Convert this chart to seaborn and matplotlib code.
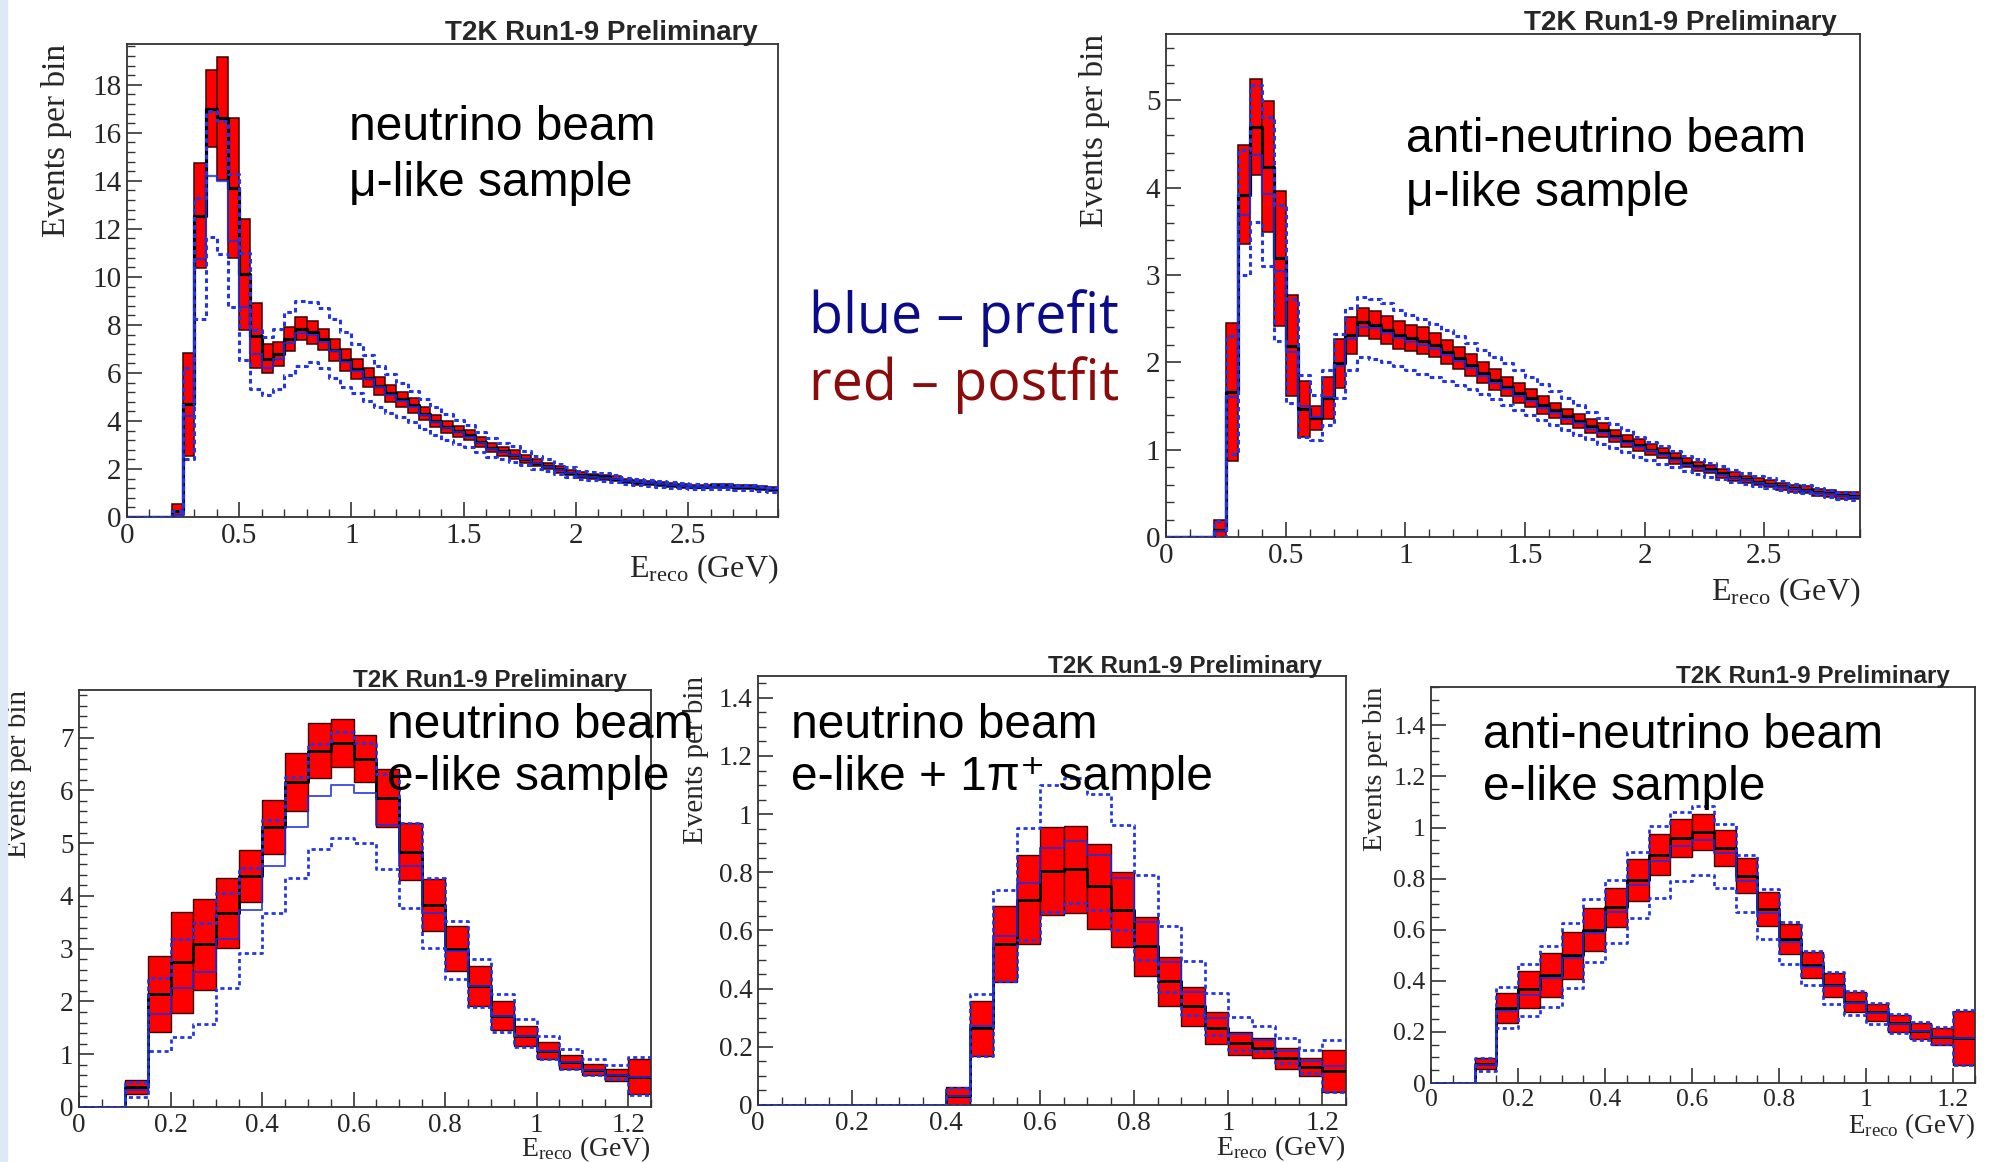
import numpy as np
import pandas as pd
import matplotlib
matplotlib.use("Agg")
import matplotlib.pyplot as plt
import seaborn as sns
from matplotlib.ticker import MultipleLocator, FuncFormatter
from matplotlib.patches import Rectangle

W, H = 1991, 1162

# bin edges in GeV (0.05 GeV bins)
mu_edges = np.round(np.arange(0, 2.9001, 0.05), 2)
e_edges = np.round(np.arange(0, 1.2501, 0.05), 2)

# ---- neutrino beam, mu-like ----
numu_post = [0, 0, 0, 0, 0.25, 4.7, 12.55, 17.0, 16.6, 13.7, 10.1, 7.55, 6.6, 6.8, 7.4, 7.85,
             7.7, 7.4, 6.95, 6.55, 6.15, 5.8, 5.45, 5.15, 4.9, 4.65, 4.3, 4.0, 3.75, 3.57,
             3.4, 3.12, 2.88, 2.74, 2.6, 2.42, 2.26, 2.12, 1.98, 1.85, 1.74, 1.7, 1.66, 1.59,
             1.5, 1.45, 1.41, 1.37, 1.34, 1.3, 1.27, 1.27, 1.28, 1.28, 1.26, 1.24, 1.2, 1.16]
numu_err = [0, 0, 0, 0, 0.3, 2.15, 2.2, 1.6, 2.55, 2.9, 2.3, 1.35, 0.6, 0.5, 0.5, 0.48,
            0.48, 0.45, 0.45, 0.45, 0.42, 0.4, 0.38, 0.35, 0.32, 0.3, 0.28, 0.26, 0.24, 0.22,
            0.21, 0.2, 0.19, 0.18, 0.17, 0.16, 0.15, 0.14, 0.13, 0.12, 0.12, 0.11, 0.11, 0.1,
            0.1, 0.1, 0.09, 0.09, 0.09, 0.09, 0.08, 0.08, 0.08, 0.08, 0.08, 0.08, 0.08, 0.08]
numu_pre = [0, 0, 0, 0, 0.1, 4.2, 10.75, 14.2, 14.0, 11.5, 8.75, 6.8, 6.2, 6.6, 7.25, 7.65,
            7.6, 7.3, 6.9, 6.45, 6.1, 5.75, 5.4, 5.1, 4.85, 4.6, 4.25, 3.95, 3.7, 3.52,
            3.35, 3.08, 2.85, 2.71, 2.57, 2.4, 2.24, 2.1, 1.96, 1.83, 1.72, 1.68, 1.64, 1.57,
            1.49, 1.44, 1.4, 1.36, 1.33, 1.29, 1.26, 1.26, 1.27, 1.27, 1.25, 1.23, 1.19, 1.15]
numu_lo = [0, 0, 0, 0, 0.0, 2.4, 8.25, 11.65, 10.95, 8.75, 6.55, 5.35, 5.1, 5.35, 5.9, 6.3,
           6.45, 6.2, 5.8, 5.4, 5.15, 4.85, 4.6, 4.35, 4.15, 3.95, 3.65, 3.4, 3.2, 3.05,
           2.9, 2.7, 2.5, 2.4, 2.3, 2.15, 2.0, 1.9, 1.78, 1.67, 1.57, 1.53, 1.5, 1.44,
           1.36, 1.32, 1.29, 1.25, 1.22, 1.19, 1.16, 1.16, 1.16, 1.16, 1.14, 1.12, 1.08, 1.04]
numu_hi = [0, 0, 0, 0, 0.25, 6.2, 13.3, 16.9, 16.5, 14.3, 11.0, 7.8, 7.5, 7.85, 8.55, 9.0,
           8.95, 8.7, 8.25, 7.7, 7.2, 6.75, 6.3, 5.95, 5.6, 5.25, 4.9, 4.6, 4.3, 4.05,
           3.85, 3.55, 3.3, 3.1, 2.95, 2.75, 2.55, 2.4, 2.22, 2.07, 1.93, 1.87, 1.82, 1.74,
           1.64, 1.58, 1.53, 1.49, 1.45, 1.41, 1.38, 1.37, 1.38, 1.37, 1.35, 1.33, 1.29, 1.25]

# ---- anti-neutrino beam, mu-like ----
numubar_post = [0, 0, 0, 0, 0.08, 1.66, 3.92, 4.7, 4.24, 3.19, 2.19, 1.47, 1.36, 1.59, 1.99, 2.31,
                2.46, 2.43, 2.37, 2.31, 2.28, 2.25, 2.2, 2.12, 2.05, 1.97, 1.88, 1.8, 1.72, 1.65,
                1.59, 1.51, 1.45, 1.38, 1.33, 1.27, 1.22, 1.16, 1.1, 1.05, 1.0, 0.96, 0.9, 0.85,
                0.81, 0.78, 0.73, 0.69, 0.66, 0.63, 0.61, 0.58, 0.56, 0.54, 0.51, 0.5, 0.48, 0.47]
numubar_err = [0, 0, 0, 0, 0.12, 0.79, 0.57, 0.55, 0.75, 0.77, 0.58, 0.32, 0.14, 0.24, 0.28, 0.21,
               0.16, 0.16, 0.16, 0.16, 0.15, 0.15, 0.14, 0.14, 0.13, 0.13, 0.12, 0.12, 0.11, 0.11,
               0.1, 0.1, 0.09, 0.09, 0.08, 0.08, 0.08, 0.07, 0.07, 0.07, 0.06, 0.06, 0.06, 0.05,
               0.05, 0.05, 0.05, 0.05, 0.04, 0.04, 0.04, 0.04, 0.04, 0.04, 0.04, 0.04, 0.04, 0.04]
numubar_pre = [0, 0, 0, 0, 0.07, 1.6, 3.69, 4.37, 3.93, 3.05, 2.12, 1.5, 1.37, 1.6, 1.96, 2.27,
               2.4, 2.39, 2.34, 2.28, 2.23, 2.2, 2.15, 2.08, 2.01, 1.93, 1.84, 1.76, 1.69, 1.62,
               1.56, 1.48, 1.42, 1.35, 1.3, 1.24, 1.19, 1.13, 1.08, 1.03, 0.98, 0.94, 0.88, 0.83,
               0.79, 0.76, 0.71, 0.68, 0.65, 0.62, 0.6, 0.57, 0.55, 0.53, 0.5, 0.49, 0.47, 0.46]
numubar_lo = [0, 0, 0, 0, 0.0, 0.95, 3.0, 3.61, 3.1, 2.24, 1.53, 1.15, 1.11, 1.28, 1.59, 1.91,
              2.06, 2.04, 2.0, 1.96, 1.91, 1.87, 1.83, 1.79, 1.74, 1.69, 1.64, 1.58, 1.51, 1.46,
              1.4, 1.34, 1.28, 1.22, 1.17, 1.12, 1.07, 1.02, 0.97, 0.92, 0.88, 0.84, 0.8, 0.76,
              0.72, 0.69, 0.66, 0.63, 0.61, 0.58, 0.56, 0.54, 0.52, 0.5, 0.48, 0.46, 0.44, 0.42]
numubar_hi = [0, 0, 0, 0, 0.18, 2.3, 4.43, 5.18, 4.81, 3.8, 2.73, 1.85, 1.63, 1.91, 2.33, 2.62,
              2.75, 2.73, 2.68, 2.6, 2.54, 2.5, 2.44, 2.37, 2.3, 2.22, 2.14, 2.06, 1.99, 1.91,
              1.83, 1.75, 1.67, 1.59, 1.51, 1.43, 1.36, 1.29, 1.22, 1.15, 1.09, 1.04, 0.98, 0.93,
              0.89, 0.85, 0.81, 0.77, 0.73, 0.7, 0.67, 0.64, 0.61, 0.59, 0.56, 0.54, 0.52, 0.5]

# ---- neutrino beam, e-like ----
nue_post = [0, 0, 0.38, 2.14, 2.74, 3.08, 3.68, 4.38, 5.31, 6.16, 6.75, 6.9, 6.6,
            5.85, 4.84, 3.82, 3.0, 2.3, 1.73, 1.35, 1.07, 0.85, 0.71, 0.61, 0.57]
nue_err = [0, 0, 0.13, 0.72, 0.95, 0.87, 0.66, 0.49, 0.51, 0.55, 0.52, 0.45, 0.45,
           0.55, 0.54, 0.49, 0.43, 0.38, 0.28, 0.19, 0.16, 0.13, 0.11, 0.11, 0.33]
nue_pre = [0, 0, 0.33, 1.76, 2.26, 2.55, 3.18, 3.74, 4.56, 5.31, 5.9, 6.1, 5.95,
           5.35, 4.56, 3.68, 2.96, 2.3, 1.73, 1.35, 1.07, 0.85, 0.71, 0.61, 0.57]
nue_lo = [0, 0, 0.19, 1.07, 1.32, 1.57, 2.26, 2.92, 3.68, 4.34, 4.88, 5.1, 5.0,
          4.5, 3.77, 3.02, 2.42, 1.89, 1.42, 1.13, 0.91, 0.72, 0.6, 0.53, 0.22]
nue_hi = [0, 0, 0.47, 2.45, 3.18, 3.49, 4.06, 4.53, 5.44, 6.26, 6.88, 7.1, 6.9,
          6.3, 5.38, 4.34, 3.52, 2.8, 2.14, 1.67, 1.35, 1.1, 0.91, 0.79, 0.94]

# ---- neutrino beam, e-like + 1pi+ ----
nue1pi_post = [0, 0, 0, 0, 0, 0, 0, 0, 0.03, 0.264, 0.553, 0.706, 0.804,
               0.81, 0.752, 0.672, 0.545, 0.425, 0.339, 0.264, 0.212, 0.195, 0.16, 0.132, 0.117]
nue1pi_err = [0, 0, 0, 0, 0, 0, 0, 0, 0.032, 0.095, 0.13, 0.152, 0.152,
              0.15, 0.146, 0.13, 0.103, 0.083, 0.066, 0.055, 0.04, 0.035, 0.035, 0.031, 0.072]
nue1pi_pre = [0, 0, 0, 0, 0, 0, 0, 0, 0.03, 0.27, 0.58, 0.763, 0.882,
              0.907, 0.861, 0.78, 0.63, 0.49, 0.39, 0.3, 0.245, 0.225, 0.185, 0.15, 0.135]
nue1pi_lo = [0, 0, 0, 0, 0, 0, 0, 0, 0.0, 0.17, 0.425, 0.568, 0.665,
             0.695, 0.67, 0.6, 0.5, 0.39, 0.31, 0.241, 0.189, 0.184, 0.143, 0.109, 0.046]
nue1pi_hi = [0, 0, 0, 0, 0, 0, 0, 0, 0.06, 0.38, 0.74, 0.953, 1.1,
             1.125, 1.068, 0.964, 0.79, 0.614, 0.494, 0.385, 0.304, 0.27, 0.23, 0.19, 0.224]

# ---- anti-neutrino beam, e-like ----
nuebar_post = [0, 0, 0.076, 0.294, 0.366, 0.423, 0.5, 0.6, 0.688, 0.795, 0.894, 0.959, 0.983,
               0.92, 0.811, 0.68, 0.563, 0.462, 0.383, 0.318, 0.276, 0.233, 0.204, 0.181, 0.177]
nuebar_err = [0, 0, 0.022, 0.059, 0.073, 0.085, 0.092, 0.085, 0.076, 0.082, 0.079, 0.075, 0.071,
              0.069, 0.069, 0.066, 0.059, 0.05, 0.047, 0.039, 0.033, 0.033, 0.03, 0.033, 0.105]
nuebar_pre = [0, 0, 0.07, 0.28, 0.344, 0.41, 0.488, 0.589, 0.671, 0.776, 0.867, 0.926, 0.95,
              0.9, 0.789, 0.665, 0.55, 0.455, 0.378, 0.315, 0.274, 0.231, 0.202, 0.18, 0.176]
nuebar_lo = [0, 0, 0.047, 0.216, 0.262, 0.298, 0.373, 0.475, 0.547, 0.645, 0.724, 0.789, 0.815,
             0.765, 0.671, 0.563, 0.464, 0.383, 0.311, 0.266, 0.23, 0.196, 0.167, 0.154, 0.069]
nuebar_hi = [0, 0, 0.096, 0.377, 0.466, 0.536, 0.628, 0.72, 0.795, 0.903, 1.005, 1.061, 1.083,
             1.015, 0.894, 0.759, 0.632, 0.517, 0.436, 0.361, 0.314, 0.272, 0.239, 0.22, 0.285]

title = "T2K Run1-9 Preliminary"

sns.set_theme(style="ticks")
plt.rcParams['font.family'] = ['Liberation Serif', 'DejaVu Serif']
plt.rcParams['mathtext.fontset'] = 'custom'
plt.rcParams['mathtext.rm'] = 'Liberation Serif'
plt.rcParams['mathtext.it'] = 'Liberation Serif:italic'

fig = plt.figure(figsize=(W / 100, H / 100), dpi=100)
fig.patch.set_facecolor('white')
fig.patches.append(Rectangle((0, 0), 7 / W, 1, transform=fig.transFigure,
                             color='#dde9f5', zorder=0))


def fx(x):
    return x / W


def fy(y):
    return 1 - y / H


def step_line(ax, edges, values, **kws):
    # one weighted entry per bin -> seaborn step histogram
    df = pd.DataFrame({'E': edges[:-1] + 0.025, 'w': np.asarray(values, dtype=float)})
    sns.histplot(data=df, x='E', weights='w', bins=list(edges), element='step', fill=False,
                 ax=ax, **kws)


def draw_sample(ax, edges, post, err, pre, lo, hi, lw_scale=1.0):
    edges = np.asarray(edges)
    post = np.asarray(post, dtype=float)
    err = np.asarray(err, dtype=float)
    m = err > 0
    ax.bar(edges[:-1][m], 2 * err[m], width=0.05, bottom=(post - err)[m], align='edge',
           color='#ff0000', edgecolor='#3a0000', linewidth=1.1 * lw_scale, zorder=2)
    step_line(ax, edges, post, color='black', linewidth=2.3 * lw_scale, zorder=3)
    step_line(ax, edges, pre, color='#1c2fe0', linewidth=1.6 * lw_scale, alpha=0.8, zorder=4)
    for band in (lo, hi):
        step_line(ax, edges, band, color='#2236e6', linewidth=2.2 * lw_scale,
                  linestyle=(0, (1.5, 1.2)), zorder=5)


def style_axes(ax, xmax, ymax, xmaj, xmin, ymaj, ymin, tsize, lsize, ylab_x, xlab_y):
    ax.set_xlim(0, xmax)
    ax.set_ylim(0, ymax)
    ax.xaxis.set_major_locator(MultipleLocator(xmaj))
    ax.xaxis.set_minor_locator(MultipleLocator(xmin))
    ax.yaxis.set_major_locator(MultipleLocator(ymaj))
    ax.yaxis.set_minor_locator(MultipleLocator(ymin))
    fmt = FuncFormatter(lambda v, p: f"{round(v, 3):g}")
    ax.xaxis.set_major_formatter(fmt)
    ax.yaxis.set_major_formatter(fmt)
    ax.tick_params(which='major', direction='in', length=11, width=1.2,
                   labelsize=tsize, color='#333333', pad=4)
    ax.tick_params(which='minor', direction='in', length=6, width=1.0, color='#333333')
    for sp in ax.spines.values():
        sp.set_color('#333333')
        sp.set_linewidth(1.3)
    ax.set_ylabel('Events per bin', loc='top', fontsize=lsize)
    ax.yaxis.set_label_coords(ylab_x, 1.0)
    ax.set_xlabel(r'E$_{\mathregular{reco}}$ (GeV)', loc='right', fontsize=lsize - 1)
    ax.xaxis.set_label_coords(1.0, xlab_y)
    ax.set_facecolor('white')
    ax.grid(False)


# panel boxes in pixels: left, top, right, bottom
boxes = {
    'numu': (127, 44, 778, 517),
    'numubar': (1166, 34, 1860, 537),
    'nue': (79, 690, 651, 1107),
    'nue1pi': (758, 676, 1346, 1105),
    'nuebar': (1431, 687, 1975, 1083),
}


def make_axes(key):
    l, t, r, b = boxes[key]
    return fig.add_axes([fx(l), fy(b), (r - l) / W, (b - t) / H])


ax1 = make_axes('numu')
draw_sample(ax1, mu_edges, numu_post, numu_err, numu_pre, numu_lo, numu_hi)
style_axes(ax1, 2.9, 19.7, 0.5, 0.1, 2, 0.4, 21, 24, -0.084, -0.074)

ax2 = make_axes('numubar')
draw_sample(ax2, mu_edges, numubar_post, numubar_err, numubar_pre, numubar_lo, numubar_hi)
style_axes(ax2, 2.9, 5.76, 0.5, 0.1, 1, 0.2, 21, 24, -0.081, -0.076)

ax3 = make_axes('nue')
draw_sample(ax3, e_edges, nue_post, nue_err, nue_pre, nue_lo, nue_hi, 0.9)
style_axes(ax3, 1.25, 7.9, 0.2, 0.05, 1, 0.2, 19.5, 21, -0.082, -0.065)

ax4 = make_axes('nue1pi')
draw_sample(ax4, e_edges, nue1pi_post, nue1pi_err, nue1pi_pre, nue1pi_lo, nue1pi_hi, 0.9)
style_axes(ax4, 1.25, 1.475, 0.2, 0.05, 0.2, 0.05, 19.5, 21, -0.084, -0.066)

ax5 = make_axes('nuebar')
draw_sample(ax5, e_edges, nuebar_post, nuebar_err, nuebar_pre, nuebar_lo, nuebar_hi, 0.9)
style_axes(ax5, 1.25, 1.55, 0.2, 0.05, 0.2, 0.05, 18.5, 20.5, -0.079, -0.072)

# "T2K Run1-9 Preliminary" headers
title_font = dict(family=['Liberation Sans', 'DejaVu Sans'], weight='bold', ha='right', va='center')
fig.text(fx(758), fy(33), title, fontsize=20, **title_font)
fig.text(fx(1837), fy(23), title, fontsize=20, **title_font)
fig.text(fx(627), fy(680), title, fontsize=17.5, **title_font)
fig.text(fx(1322), fy(666), title, fontsize=17.5, **title_font)
fig.text(fx(1950), fy(677), title, fontsize=17.5, **title_font)

# sample annotations
ann_font = dict(family=['Liberation Sans', 'DejaVu Sans'], fontsize=34.5, ha='left', va='center',
                color='black')
annotations = [
    (349, 128, 183, "neutrino beam", "\u03bc-like sample"),
    (1406, 140, 194, "anti-neutrino beam", "\u03bc-like sample"),
    (387, 725, 778, "neutrino beam", "e-like sample"),
    (791, 725, 778, "neutrino beam", "e-like + 1\u03c0\u207a sample"),
    (1483, 736, 788, "anti-neutrino beam", "e-like sample"),
]
for x, y1, y2, l1, l2 in annotations:
    fig.text(fx(x), fy(y1), l1, **ann_font)
    fig.text(fx(x), fy(y2), l2, **ann_font)

# legend text in the middle
leg_font = dict(family=['Open Sans', 'DejaVu Sans'], fontsize=40, ha='left', va='center')
fig.text(fx(809), fy(318), "blue \u2013 prefit", color='#0a0a8a', **leg_font)
fig.text(fx(809), fy(385), "red \u2013 postfit", color='#8b0a0a', **leg_font)

fig.savefig('out.png', dpi=100, facecolor='white')
